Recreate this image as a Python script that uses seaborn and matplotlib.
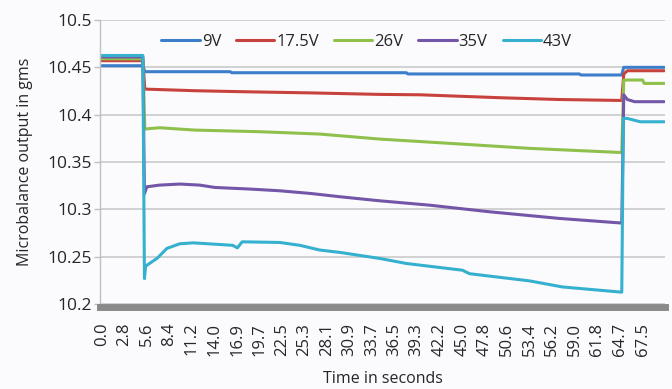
import matplotlib
matplotlib.use("Agg")
import matplotlib.pyplot as plt
import pandas as pd
import seaborn as sns

# time (s) and microbalance reading (g) for each supply voltage
t_9v = [0, 5.1, 5.35, 16.0, 16.2, 38.0, 38.2, 59.6, 59.8, 64.9, 65.15, 70.2]
v_9v = [10.4517, 10.4517, 10.4454, 10.4454, 10.4443, 10.4443, 10.4430, 10.4430,
        10.4419, 10.4419, 10.4500, 10.4500]

t_17v = [0, 5.1, 5.35, 11.6, 17.2, 26.0, 34.7, 39.7, 49.7, 57.1, 64.9, 65.15, 65.6, 70.2]
v_17v = [10.457, 10.457, 10.427, 10.4253, 10.4243, 10.423, 10.4214, 10.421, 10.4179,
         10.416, 10.4150, 10.443, 10.4464, 10.4464]

t_26v = [0, 5.1, 5.35, 7.2, 11.6, 19.7, 27.2, 34.7, 43.4, 53.4, 64.9, 65.15, 67.5, 67.7, 70.2]
v_26v = [10.459, 10.459, 10.3848, 10.3862, 10.3837, 10.382, 10.3795, 10.3742, 10.3697,
         10.3644, 10.3600, 10.4366, 10.4366, 10.433, 10.433]

t_35v = [0, 5.1, 5.3, 5.6, 7.2, 9.7, 12.2, 14.1, 18.5, 22.2, 26.0, 29.7, 34.7, 40.9,
         48.4, 57.1, 64.9, 65.15, 65.6, 66.5, 70.2]
v_35v = [10.461, 10.461, 10.3165, 10.3238, 10.3256, 10.3267, 10.3256, 10.3231, 10.3214,
         10.3196, 10.3168, 10.3133, 10.309, 10.3044, 10.2974, 10.2904, 10.2855, 10.421,
         10.416, 10.4137, 10.4137]

t_43v = [0, 5.1, 5.3, 5.45, 6.9, 8.1, 9.7, 11.4, 16.3, 16.9, 17.5, 22.2, 24.7, 27.2,
         29.7, 34.7, 38.0, 45.0, 45.9, 53.4, 57.5, 64.9, 65.1, 65.6, 67.2, 70.2]
v_43v = [10.4625, 10.4625, 10.2269, 10.2400, 10.2484, 10.2587, 10.2636, 10.2646, 10.262,
         10.2593, 10.2657, 10.265, 10.262, 10.257, 10.2545, 10.2481, 10.2428, 10.2357,
         10.232, 10.2244, 10.218, 10.2125, 10.396, 10.396, 10.3925, 10.3925]

series = ["9V", "17.5V", "26V", "35V", "43V"]
colors = ["#3d7ecb", "#c8423d", "#8fc04c", "#7356a8", "#35b1cf"]
tick_labels = ["0.0", "2.8", "5.6", "8.4", "11.2", "14.0", "16.9", "19.7", "22.5",
               "25.3", "28.1", "30.9", "33.7", "36.5", "39.3", "42.2", "45.0", "47.8",
               "50.6", "53.4", "56.2", "59.0", "61.8", "64.7", "67.5"]

frames = []
for name, t, v in zip(series, [t_9v, t_17v, t_26v, t_35v, t_43v],
                      [v_9v, v_17v, v_26v, v_35v, v_43v]):
    frames.append(pd.DataFrame({"time": t, "mass": v, "voltage": name}))
df = pd.concat(frames, ignore_index=True)

sns.set_theme(style="whitegrid", context="paper")
plt.rcParams["font.family"] = ["Open Sans", "DejaVu Sans"]

fig = plt.figure(figsize=(6.72, 3.89), dpi=100, facecolor="#fbfbfd")
ax = fig.add_axes([0.1488, 0.2185, 0.8408, 0.7301])
ax.set_facecolor("#fbfbfd")

sns.lineplot(data=df, x="time", y="mass", hue="voltage", hue_order=series,
             palette=colors, estimator=None, sort=False, linewidth=2.2, ax=ax)

ax.set_xlim(-0.25, 70.3)
ax.set_ylim(10.2, 10.5)
ax.set_yticks([10.2, 10.25, 10.3, 10.35, 10.4, 10.45, 10.5])
ax.set_yticklabels(["10.2", "10.25", "10.3", "10.35", "10.4", "10.45", "10.5"])
ax.set_xticks([float(s) for s in tick_labels])
ax.set_xticklabels(tick_labels)

ax.grid(axis="y", color="#c6c6c6", linewidth=1.1)
ax.grid(axis="x", visible=False)
ax.tick_params(axis="y", length=4, color="#bfbfbf", pad=1.5, labelsize=12.5, left=True)
ax.tick_params(axis="x", length=0, pad=11, labelsize=12, labelrotation=90)

for s in ["top", "right"]:
    ax.spines[s].set_visible(False)
ax.spines["left"].set_color("#bfbfbf")
ax.spines["left"].set_linewidth(1)
ax.spines["bottom"].set_color("#8a8a8a")
ax.spines["bottom"].set_linewidth(5)
ax.spines["bottom"].set_position(("outward", 2.5))

ax.set_xlabel("Time in seconds", fontsize=11.5, labelpad=11)
ax.set_ylabel("Microbalance output in gms", fontsize=11.5, labelpad=11)

ax.legend(ncol=5, frameon=False, fontsize=12, loc="upper center",
          bbox_to_anchor=(0.472, 1.005), handlelength=2.3, handletextpad=0.12,
          columnspacing=0.9)

plt.savefig("out.png", dpi=100, facecolor=fig.get_facecolor())
plt.close()
